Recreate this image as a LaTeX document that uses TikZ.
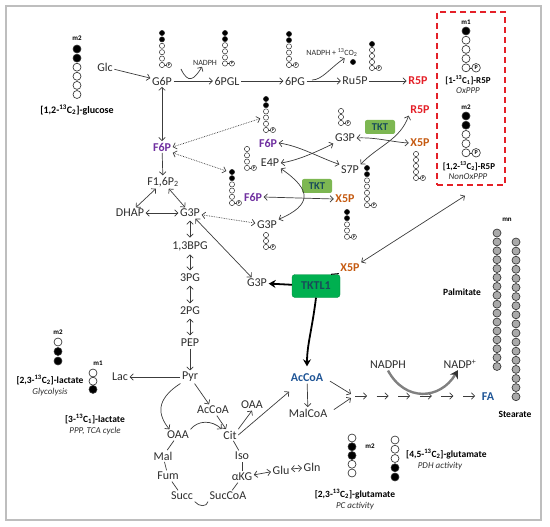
\documentclass[tikz,border=0pt]{standalone}
\usepackage{fontspec}
\setmainfont{Carlito}
\usetikzlibrary{arrows.meta, positioning, calc}

\definecolor{textgray}{RGB}{45,45,45}
\definecolor{linegray}{RGB}{60,60,60}
\definecolor{atomgray}{RGB}{50,50,50}
\definecolor{chaingray}{RGB}{170,170,170}
\definecolor{framegray}{RGB}{190,190,190}
\definecolor{redR}{RGB}{228,32,40}
\definecolor{orangeX}{RGB}{197,90,17}
\definecolor{purpleF}{RGB}{112,48,160}
\definecolor{blueA}{RGB}{31,85,150}
\definecolor{tktgreen}{RGB}{125,183,82}
\definecolor{tktlgreen}{RGB}{0,176,80}
\definecolor{tkttext}{RGB}{25,75,90}

\tikzstyle{met} = [font=\fontsize{12}{14}\selectfont,
	text=textgray,
	inner sep=1.5pt
	]
\tikzstyle{redmet} = [met, font=\bfseries\fontsize{12}{14}\selectfont, text=redR]
\tikzstyle{orgmet} = [met, font=\bfseries\fontsize{12}{14}\selectfont, text=orangeX]
\tikzstyle{purmet} = [met, font=\bfseries\fontsize{12}{14}\selectfont, text=purpleF]
\tikzstyle{blumet} = [met, font=\bfseries\fontsize{12}{14}\selectfont, text=blueA]
\tikzstyle{cof} = [font=\fontsize{8}{9}\selectfont, text=textgray, inner sep=1pt]
\tikzstyle{lab} = [font=\bfseries\fontsize{9.5}{11}\selectfont, inner sep=1pt]
\tikzstyle{comment} = [font=\itshape\fontsize{9}{10}\selectfont, text=textgray, inner sep=1pt]
\tikzstyle{mlabel} = [font=\bfseries\fontsize{7}{8}\selectfont, inner sep=1pt]
\tikzstyle{tkt} = [rectangle,
	rounded corners=2pt,
	minimum width=30pt,
	minimum height=14pt,
	fill=tktgreen,
	text=tkttext,
	font=\bfseries\fontsize{10.5}{12}\selectfont
	]
\tikzstyle{tktlbox} = [rectangle,
	rounded corners=3pt,
	minimum width=48pt,
	minimum height=23pt,
	draw=tktlgreen!80!black,
	fill=tktlgreen,
	text=tkttext,
	font=\bfseries\fontsize{12}{14}\selectfont
	]
\tikzstyle{pppbox} = [rectangle,
	minimum width=68pt,
	minimum height=173pt,
	draw=redR,
	line width=1.6pt,
	dash pattern=on 6pt off 4pt
	]
\tikzstyle{bigatom} = [circle, draw=atomgray, line width=0.65pt, inner sep=0pt, minimum size=8pt]
\tikzstyle{smallatom} = [circle, draw=atomgray, line width=0.5pt, inner sep=0pt, minimum size=5.2pt]
\tikzstyle{bigp} = [bigatom, minimum size=8.5pt, font=\bfseries\fontsize{6}{6}\selectfont]
\tikzstyle{smallp} = [smallatom, font=\bfseries\fontsize{4}{4}\selectfont]
\tikzstyle{arrow} = [draw=linegray, line width=0.7pt, -{Straight Barb[length=3.2pt,width=6.5pt]}]
\tikzstyle{twoway} = [draw=linegray, line width=0.7pt,
	{Straight Barb[length=3.2pt,width=6.5pt]}-{Straight Barb[length=3.2pt,width=6.5pt]}]
\tikzstyle{dotarrow} = [twoway, densely dotted]
\tikzstyle{glyc} = [twoway, shorten <=2pt, shorten >=2pt]
\tikzstyle{tcaline} = [draw=linegray, line width=0.7pt]
\tikzstyle{thickarrow} = [black, line width=1.8pt, -{Stealth[length=7pt,width=8pt]}]
\tikzstyle{grayarrow} = [draw=gray, line width=2.4pt, -{Stealth[length=8pt,width=9pt,color=black!80]}]

% column of carbon atoms: name, style, x, y of first, step, fills
\newcommand{\carbons}[6]{%
	\foreach \f [count=\i] in {#6}
		\node[#2, fill=\f] (#1\i) at (#3, {#4+(\i-1)*#5}) {};
}
% phosphate on an atom
\newcommand{\phos}[2]{%
	\node[#2, right=1.2pt of #1] (#1p) {P};
	\draw[atomgray, line width=0.45pt] (#1) -- (#1p);
}

\begin{document}
\begin{tikzpicture}[x=1pt, y=-1pt]
\useasboundingbox (0,0) rectangle (550,527);
\draw[framegray, line width=1.2pt] (6,6) rectangle (541,520);

% oxidative PPP
\node (Glc) [met] at (105,67) {Glc};
\node (G6P) [met] at (162,81) {G6P};
\node (PGL) [met] at (227,81) {6PGL};
\node (PG) [met] at (295,81) {6PG};
\node (Ru5P) [met] at (355,81) {Ru5P};
\node (R5Pa) [redmet] at (418,81) {R5P};
\node (nadphA) [cof] at (205,63) {NADPH};
\node (co2) [cof] at (332,53) {NADPH + \textsuperscript{13}CO\textsubscript{2}};

% glycolysis
\node (F6P) [purmet] at (162,147) {F6P};
\node (F16) [met] at (163,182) {F1,6P\textsubscript{2}};
\node (DHAP) [met] at (130,213) {DHAP};
\node (G3P) [met] at (190,213) {G3P};
\node (BPG) [met] at (190,246) {1,3BPG};
\node (PGc) [met] at (190,278) {3PG};
\node (PGb) [met] at (190,311) {2PG};
\node (PEP) [met] at (190,343) {PEP};
\node (Pyr) [met] at (190,377) {Pyr};
\node (Lac) [met] at (120,377) {Lac};

% TCA cycle
\node (AcCoAm) [met] at (213,410) {AcCoA};
\node (OAAa) [met] at (178,435) {OAA};
\node (Cit) [met] at (230,435) {Cit};
\node (OAAb) [met] at (252,405) {OAA};
\node (Iso) [met] at (242,456) {Iso};
\node (aKG) [met] at (242,477) {αKG};
\node (SucCoA) [met] at (228,496) {SucCoA};
\node (Succ) [met] at (182,496) {Succ};
\node (Fum) [met] at (168,476) {Fum};
\node (Mal) [met] at (163,456) {Mal};
\node (Glu) [met] at (281,470) {Glu};
\node (Gln) [met] at (312,467) {Gln};

% non-oxidative PPP
\node (F6Pu) [purmet] at (268,143) {F6P};
\node (E4P) [met] at (270,163) {E4P};
\node (G3Pu) [met] at (345,138) {G3P};
\node (S7P) [met] at (350,170) {S7P};
\node (R5Pb) [redmet] at (420,110) {R5P};
\node (X5Pa) [orgmet] at (420,143) {X5P};
\node (tktA) [tkt] at (380,127) {TKT};
\node (tktB) [tkt] at (317,186) {TKT};
\node (F6Pl) [purmet] at (253,197) {F6P};
\node (X5Pb) [orgmet] at (345,199) {X5P};
\node (G3Pl) [met] at (267,225) {G3P};
\node (G3Pt) [met] at (257,283) {G3P};
\node (tktl) [tktlbox] at (316,286) {TKTL1};
\node (X5Pc) [orgmet] at (350,268) {X5P};

% fatty acids
\node (AcCoA) [blumet] at (307,378) {AcCoA};
\node (MalCoA) [met] at (308,413) {MalCoA};
\node (FA) [blumet] at (488,397) {FA};
\node (nadphB) [met] at (388,365) {NADPH};
\node (nadp) [met] at (460,364) {NADP\textsuperscript{+}};
\node (palm) [lab] at (462,292) {Palmitate};
\node (stea) [lab] at (515,414) {Stearate};
\node (mn) [mlabel] at (507,220) {mn};

% ribose box
\node (ppp) [pppbox] at (471,98.5) {};
\node (m1r) [mlabel] at (466,22) {m1};
\node (r5pOx) [lab, font=\bfseries\fontsize{9}{10}\selectfont] at (468,80) {[1-\textsuperscript{13}C\textsubscript{1}]-R5P};
\node (oxppp) [comment] at (468,91) {OxPPP};
\node (m2r) [mlabel] at (466,107) {m2};
\node (r5pNon) [lab, font=\bfseries\fontsize{9}{10}\selectfont] at (469,166) {[1,2-\textsuperscript{13}C\textsubscript{2}]-R5P};
\node (nonox) [comment] at (468,177) {NonOxPPP};

% isotopomer labels
\node (m2g) [mlabel] at (77,38) {m2};
\node (glcLab) [lab, font=\bfseries\fontsize{10}{11}\selectfont] at (77,110) {[1,2-\textsuperscript{13}C\textsubscript{2}]-glucose};
\node (m2l) [mlabel] at (58,332) {m2};
\node (lacB) [lab] at (50,380) {[2,3-\textsuperscript{13}C\textsubscript{2}]-lactate};
\node (glyco) [comment] at (50,392) {Glycolysis};
\node (m1l) [mlabel] at (98,363) {m1};
\node (lacA) [lab] at (95,419) {[3-\textsuperscript{13}C\textsubscript{1}]-lactate};
\node (tca) [comment] at (95,431) {PPP, TCA cycle};
\node (m2u) [mlabel] at (370,446) {m2};
\node (gluB) [lab, anchor=west] at (405,454) {[4,5-\textsuperscript{13}C\textsubscript{2}]-glutamate};
\node (pdh) [comment] at (440,466) {PDH activity};
\node (gluA) [lab] at (355,494) {[2,3-\textsuperscript{13}C\textsubscript{2}]-glutamate};
\node (pc) [comment] at (355,506) {PC activity};

% carbon skeletons
\carbons{glc}{bigatom}{77}{49}{9.1}{black,black,white,white,white,white}
\carbons{g6p}{smallatom}{162}{33}{6.4}{black,black,white,white,white,white}
\phos{g6p6}{smallp}
\carbons{pgl}{smallatom}{225}{33}{6.1}{black,black,white,white,white,white}
\phos{pgl6}{smallp}
\carbons{pg}{smallatom}{289}{34}{6.2}{black,black,white,white,white,white}
\phos{pg6}{smallp}
\carbons{ru}{smallatom}{372}{44}{6}{black,white,white,white,white}
\phos{ru5}{smallp}
\node (co2dot) [smallatom, fill=black] at (353,62) {};
\carbons{rox}{bigatom}{466}{31}{9.2}{black,white,white,white,white}
\phos{rox5}{bigp}
\carbons{rnon}{bigatom}{466}{116}{9.2}{black,black,white,white,white}
\phos{rnon5}{bigp}
\carbons{f6pu}{smallatom}{266}{99}{6.2}{black,black,white,white,white,white}
\phos{f6pu6}{smallp}
\carbons{e4p}{smallatom}{247}{149}{6.3}{white,white,white,white}
\phos{e4p4}{smallp}
\carbons{g3pu}{smallatom}{341}{111}{6}{white,white,white}
\phos{g3pu3}{smallp}
\carbons{s7p}{smallatom}{367}{168}{6.2}{black,black,white,white,white,white,white}
\phos{s7p7}{smallp}
\carbons{x5pa}{smallatom}{416}{154}{6}{white,white,white,white,white}
\phos{x5pa5}{smallp}
\carbons{f6pl}{smallatom}{232}{172}{6.2}{black,black,white,white,white,white}
\phos{f6pl6}{smallp}
\carbons{x5pb}{smallatom}{347}{212}{6.2}{black,black,white,white,white}
\phos{x5pb5}{smallp}
\carbons{g3pl}{smallatom}{266}{235}{6}{white,white,white}
\phos{g3pl3}{smallp}
\carbons{lacm}{bigatom}{58}{342}{9.5}{white,black,black}
\carbons{lacn}{bigatom}{93}{373}{8.2}{white,white,black}
\carbons{glum}{bigatom}{352}{438}{8.75}{white,black,black,white,white}
\carbons{glun}{bigatom}{395}{440}{9.25}{white,white,white,black,black}
\foreach \i in {1,...,16}
	\node[bigatom, fill=chaingray] (pal\i) at (497,{233+(\i-1)*8.9}) {};
\foreach \i in {1,...,18}
	\node[bigatom, fill=chaingray] (ste\i) at (516,{242+(\i-1)*9.1}) {};

% oxidative branch
\draw [arrow] (Glc) -- (G6P);
\draw [arrow] (G6P) -- (PGL);
\draw [arrow] (PGL) -- (PG);
\draw [arrow] (PG) -- (Ru5P);
\draw [arrow] (Ru5P) -- (R5Pa);
\coordinate (nadIn) at (181,69);
\draw [arrow] (nadIn) .. controls (188,84) and (194,80) .. ([xshift=-3pt]nadphA.south);
\coordinate (co2In) at (312,80);
\draw [arrow] (co2In) .. controls (322,80) and (330,68) .. ([xshift=-14pt]co2.south east);

% glycolysis
\draw [twoway] (G6P) -- (F6P);
\draw [arrow] (F6P) -- (F16);
\draw [twoway] (F16) -- (DHAP);
\draw [twoway] (F16) -- (G3P);
\draw [twoway] (DHAP) -- (G3P);
\draw [glyc] (G3P) -- (BPG);
\draw [glyc] (BPG) -- (PGc);
\draw [glyc] (PGc) -- (PGb);
\draw [glyc] (PGb) -- (PEP);
\draw [arrow] (PEP) -- (Pyr);
\draw [arrow] (Pyr) -- (Lac);
\draw [arrow] (Pyr) -- (AcCoAm);
\draw [arrow] (Pyr.south west) .. controls (155,400) and (158,415) .. ([xshift=4pt]OAAa.north west);
\draw [arrow] (OAAa.north east) .. controls (198,420) and (212,420) .. (Cit.north west);
\draw [arrow] (AcCoAm) -- (Cit);
\draw [arrow] (Cit.north east) -- (OAAb.south);
\draw [arrow] (Cit.east) -- ([yshift=-8pt]AcCoA.south west);

% TCA cycle
\draw [tcaline] (OAAa) -- (Mal);
\draw [tcaline] (Mal) -- (Fum);
\draw [tcaline] (Fum) -- (Succ);
\draw [tcaline] (Succ.south east) .. controls (199,507) and (207,507) .. (SucCoA.south west);
\draw [tcaline] (SucCoA) -- (aKG);
\draw [tcaline] (aKG) -- (Iso);
\draw [tcaline] (Iso) -- (Cit);
\draw [twoway] (aKG) -- (Glu);
\draw [twoway] (Glu) -- (Gln);

% links to the PPP
\draw [dotarrow, shorten >=3pt] (F6P.east) -- (f6pu4.west);
\draw [dotarrow, shorten >=3pt] (F6P.south east) -- (f6pl1.west);
\draw [dotarrow] (G3P) -- (G3Pl);
\draw [twoway] (G3P) -- (G3Pt);

% transketolase
\draw [twoway] (F6Pu.east) .. controls (300,146) and (320,158) .. (S7P.north west);
\draw [twoway] (E4P.east) .. controls (300,160) and (320,150) .. (G3Pu.south west);
\draw [twoway] (G3Pu.east) .. controls (375,137) and (392,142) .. (X5Pa.west);
\draw [twoway] (S7P.north east) .. controls (378,146) and (400,140) .. (R5Pb.south west);
\draw [twoway] (F6Pl.east) -- (X5Pb.west);
\draw [twoway] (E4P.south east) .. controls (312,190) and (312,205) .. (G3Pl.north east);

% TKTL1
\draw [thickarrow] (tktl) -- (G3Pt);
\draw [black, line width=1pt] (X5Pc.south west) -- ([xshift=-9pt]tktl.north east);
\draw [twoway] (X5Pc.north east) -- ([xshift=-6pt,yshift=-10pt]ppp.south);
\draw [thickarrow] (tktl.south) .. controls (312,330) and (307,345) .. ([yshift=6pt]AcCoA.north);

% fatty acid synthesis
\coordinate (merge) at (351,396);
\draw [arrow] (AcCoA) -- (MalCoA);
\draw [arrow, shorten <=6pt] (AcCoA.east) -- ([yshift=2pt]merge);
\draw [arrow, shorten <=6pt] (MalCoA.east) -- ([yshift=-2pt]merge);
\foreach \k in {0,...,5}
	\draw [arrow] ($(merge)+(4+\k*21.6,0)$) -- ++(12,0);
\draw [grayarrow] (nadphB.south) .. controls (405,402) and (440,400) .. ([xshift=-2pt]nadp.south);

\end{tikzpicture}
\end{document}
